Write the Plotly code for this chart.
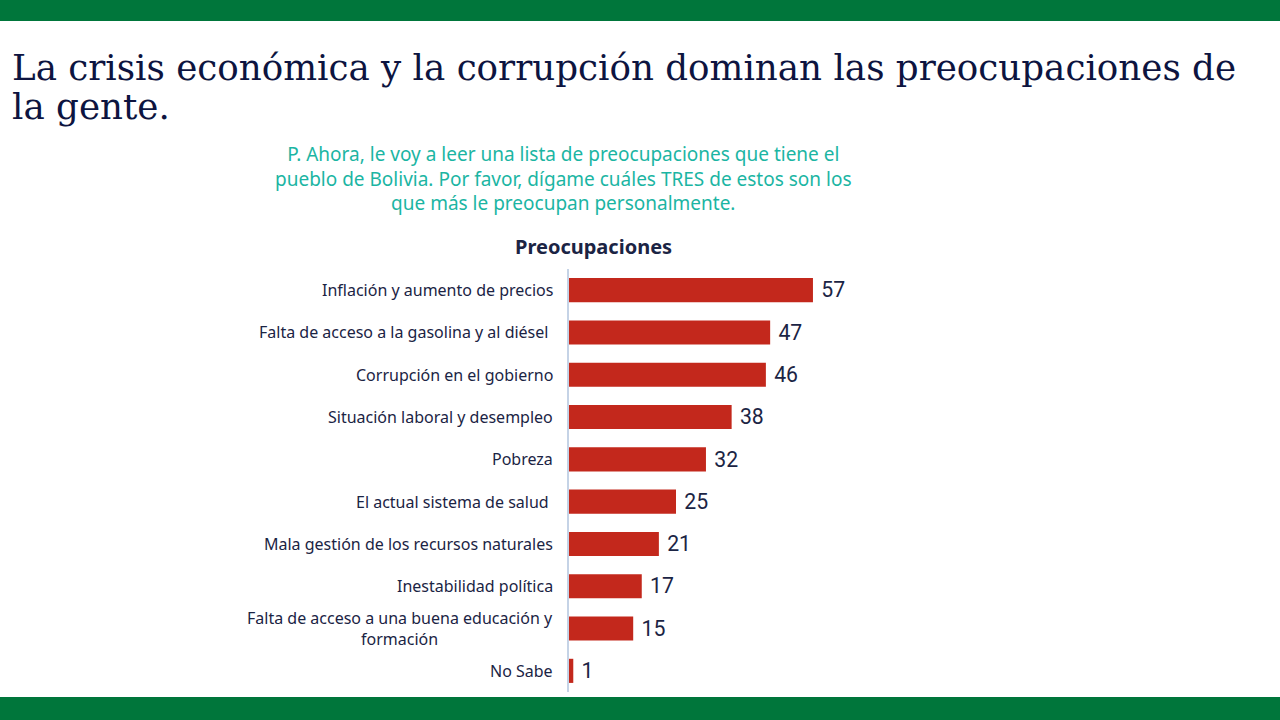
import plotly.graph_objects as go

categories = [
    "Inflación y aumento de precios",
    "Falta de acceso a la gasolina y al diésel\u00a0",
    "Corrupción en el gobierno",
    "Situación laboral y desempleo",
    "Pobreza",
    "El actual sistema de salud\u00a0",
    "Mala gestión de los recursos naturales",
    "Inestabilidad política",
    "Falta de acceso a una buena educación y<br>formación",
    "No Sabe",
]
values = [57, 47, 46, 38, 32, 25, 21, 17, 15, 1]

title_line1 = "La crisis económica y la corrupción dominan las preocupaciones de"
title_line2 = "la gente."
subtitle_text = ("P. Ahora, le voy a leer una lista de preocupaciones que tiene el<br>"
                 "pueblo de Bolivia. Por favor, dígame cuáles TRES de estos son los<br>"
                 "que más le preocupan personalmente.")
chart_title = "Preocupaciones"

W, H = 1280, 720
ML, MR, MT, MB = 569, 411, 269, 28
PW = W - ML - MR
PH = H - MT - MB

def px(x):
    return (x - ML) / PW

def py(y):
    return (H - MB - y) / PH

GREEN = "#00763b"
NAVY = "#1b2444"

fig = go.Figure()
fig.add_trace(go.Bar(
    x=values, y=categories, orientation="h",
    marker=dict(color="#c3281c", line=dict(width=0)),
    text=[f" {v}" for v in values], textposition="outside",
    textfont=dict(family="Roboto", size=22, color=NAVY),
    cliponaxis=False, width=0.57,
    hoverinfo="skip",
))

annotations = []
for c in categories:
    annotations.append(dict(
        x=0, xref="paper", y=c, yref="y", xanchor="right", yanchor="middle",
        xshift=-14, text=c, showarrow=False, align="center",
        font=dict(family="Noto Sans", size=16, color=NAVY),
    ))
title_font = dict(family="DejaVu Serif", size=35.7, color="#0d1440")
annotations += [
    dict(x=px(10), y=py(67), xref="paper", yref="paper", xanchor="left", yanchor="middle",
         text=title_line1, showarrow=False, align="left", font=title_font),
    dict(x=px(10), y=py(107), xref="paper", yref="paper", xanchor="left", yanchor="middle",
         text=title_line2, showarrow=False, align="left", font=title_font),
    dict(x=px(563), y=py(139), xref="paper", yref="paper", xanchor="center", yanchor="top",
         text=subtitle_text, showarrow=False, align="center",
         font=dict(family="Noto Sans", size=19, color="#1bb5a3")),
    dict(x=px(593), y=py(246), xref="paper", yref="paper", xanchor="center", yanchor="middle",
         text="<b>" + chart_title + "</b>", showarrow=False,
         font=dict(family="Noto Sans", size=20, color=NAVY)),
]

shapes = [
    dict(type="rect", xref="paper", yref="paper", x0=px(0), x1=px(W), y0=py(0), y1=py(21),
         fillcolor=GREEN, line=dict(width=0), layer="below"),
    dict(type="rect", xref="paper", yref="paper", x0=px(0), x1=px(W), y0=py(697), y1=py(H),
         fillcolor=GREEN, line=dict(width=0), layer="below"),
]

fig.update_layout(
    width=W, height=H,
    margin=dict(l=ML, r=MR, t=MT, b=MB, pad=0),
    paper_bgcolor="white", plot_bgcolor="white",
    showlegend=False,
    bargap=0.43,
    xaxis=dict(range=[0, PW / 4.28], visible=False, fixedrange=True),
    yaxis=dict(autorange="reversed", showticklabels=False, ticks="",
               showline=True, linecolor="#c5d3e6", linewidth=2,
               showgrid=False, zeroline=False, fixedrange=True),
    annotations=annotations, shapes=shapes,
)

fig.write_html("out.html", config={"displayModeBar": False},
               post_script="document.body.style.margin='0';document.body.style.overflow='hidden';")
